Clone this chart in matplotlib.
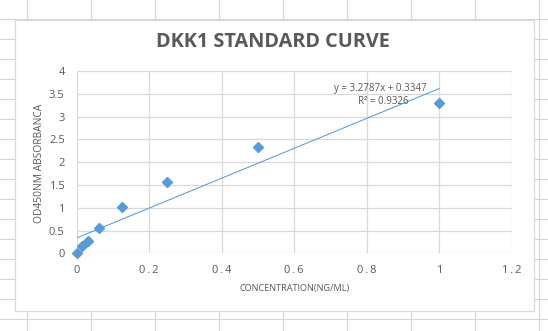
""" DKK1 standard curve (Excel style screenshot) """
import numpy as np
import matplotlib
matplotlib.use("Agg")
import matplotlib.pyplot as plt
from matplotlib.patches import Rectangle

# concentration (ng/ml) vs OD450 absorbance
conc = [0, 0.015625, 0.03125, 0.0625, 0.125, 0.25, 0.5, 1]
od450 = [0.0, 0.16, 0.27, 0.55, 1.02, 1.56, 2.33, 3.29]

# linear trendline as reported by Excel
slope = 3.2787
intercept = 0.3347
r2 = 0.9326

xticks = [0, 0.2, 0.4, 0.6, 0.8, 1, 1.2]
yticks = [0, 0.5, 1, 1.5, 2, 2.5, 3, 3.5, 4]

W, H = 548, 331
grey = "#595959"
blue = "#5B9BD5"
plt.rcParams['font.family'] = ['Open Sans', 'DejaVu Sans']

fig = plt.figure(figsize=(W / 100, H / 100), dpi=100)
fig.patch.set_facecolor("white")

def fx(px):
    return px / W

def fy(py):
    return 1 - py / H

# spreadsheet cells behind the chart
bg = fig.add_axes([0, 0, 1, 1])
bg.set_xlim(0, W)
bg.set_ylim(H, 0)
bg.axis("off")
for cx in np.arange(27, W, 64):
    bg.plot([cx, cx], [0, H], color="#D4D4D4", lw=0.8)
for ry in np.arange(19, H, 20):
    bg.plot([0, W], [ry, ry], color="#D4D4D4", lw=0.8)
bg.add_patch(Rectangle((15, 19.5), 519, 291.5, facecolor="white",
                       edgecolor="#D9D9D9", lw=0.9, zorder=3))

# plot area
ax = fig.add_axes([fx(76.5), fy(253.3), fx(511.5) - fx(76.5), fy(71) - fy(253.3)])
ax.patch.set_alpha(0)
ax.set_xlim(0, 1.2)
ax.set_ylim(0, 4)
ax.set_xticks(xticks)
ax.set_xticklabels(["0" if t == 0 else ("1" if t == 1 else "\u2009.\u2009".join(str(t).split(".")))
                    for t in xticks])
ax.set_yticks(yticks)
ax.set_yticklabels([str(t) for t in yticks])
ax.grid(True, color="#D9D9D9", lw=0.9)
ax.set_axisbelow(True)
for s in ax.spines.values():
    s.set_visible(False)
ax.tick_params(length=0, colors=grey, labelsize=8)
ax.tick_params(axis="x", pad=8.5)
ax.tick_params(axis="y", pad=8.5)

xfit = np.array([0, 1])
ax.plot(xfit, slope * xfit + intercept, color=blue, lw=0.75, zorder=2)
ax.plot(conc, od450, linestyle="none", marker="D", markersize=5.4,
        color=blue, clip_on=False, zorder=3)

fig.text(fx(273), fy(42), "DKK1 STANDARD CURVE", ha="center", va="center",
         fontsize=14.3, fontweight="bold", color=grey)
fig.text(fx(40), fy(163), "OD450NM ABSORBANCA", rotation=90, ha="center",
         va="center", fontsize=7.4, color=grey)
fig.text(fx(295), fy(288), "CONCENTRATION(NG/ML)", ha="center", va="center",
         fontsize=6.6, color=grey)
fig.text(fx(427), fy(88), "y = %.4fx + %.4f" % (slope, intercept), ha="right",
         va="center", fontsize=7, color=grey)
fig.text(fx(383), fy(102), "R\u00b2 = %.4f" % r2, ha="center", va="center",
         fontsize=7, color=grey)

fig.savefig("out.png", dpi=100)
